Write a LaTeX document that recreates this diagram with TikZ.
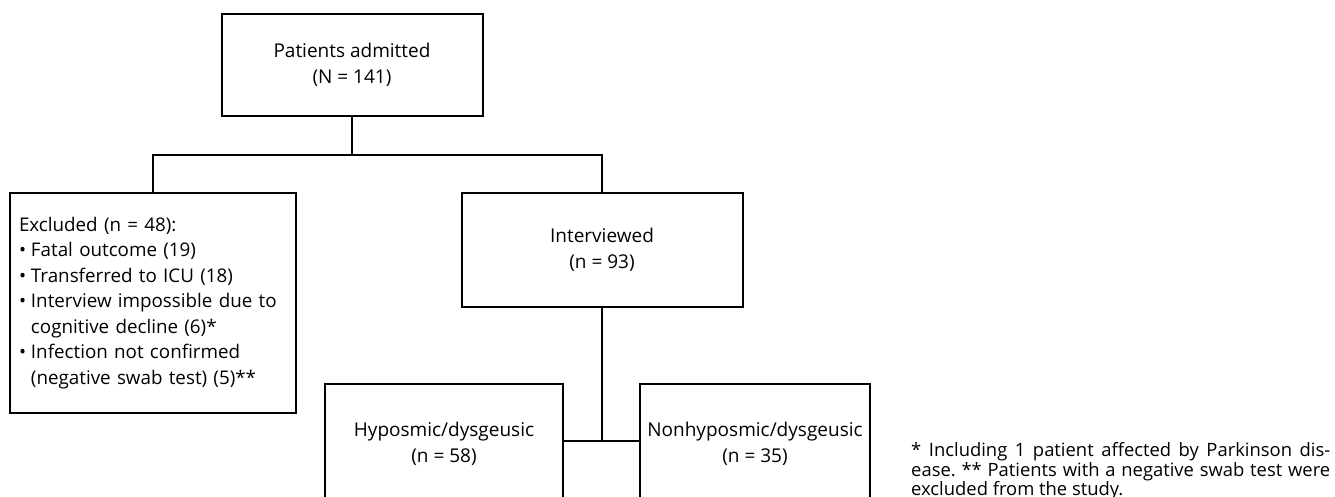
\documentclass[tikz,border=0pt]{standalone}
\usepackage{fontspec}
\setmainfont{Open Sans}
\frenchspacing
\newcommand{\mybul}{\makebox[12pt][l]{•}}
\newcommand{\myind}{\hspace*{12pt}}
\begin{document}
\begin{tikzpicture}[x=1pt,y=-1pt,
  box/.style={draw=black, line width=2pt, rectangle, inner sep=0pt, align=center,
    font=\fontsize{19}{26}\selectfont, text=black},
  conn/.style={draw=black, line width=2pt},
  notetext/.style={anchor=north west, inner sep=0pt, text width=419pt, align=justify,
    font=\fontsize{18.4}{19.6}\selectfont, text=black}
]
\useasboundingbox (0,0) rectangle (1335,496);
\clip (0,0) rectangle (1335,496);

\node[box, minimum width=261pt, minimum height=102pt] (adm) at (352,65) {Patients admitted\\(N = 141)};
\node[box, minimum width=286pt, minimum height=220pt, text width=268pt, align=left,
  font=\fontsize{18.8}{25.5}\selectfont] (excl) at (153,303)
  {Excluded (n = 48):\\
   \mybul Fatal outcome (19)\\
   \mybul Transferred to ICU (18)\\
   \mybul Interview impossible due to\\
   \myind cognitive decline (6)*\\
   \mybul Infection not confirmed\\
   \myind (negative swab test) (5)**};
\node[box, minimum width=281pt, minimum height=114pt] (intv) at (602,250) {Interviewed\\(n = 93)};
\node[box, minimum width=238pt, minimum height=119pt] (hypo) at (444,443.5) {Hyposmic/dysgeusic\\(n = 58)};
\node[box, minimum width=230pt, minimum height=119pt] (non) at (755,443.5) {Nonhyposmic/dysgeusic\\(n = 35)};

\coordinate (split) at (352,155);
\coordinate (split2) at (602,441);
\draw[conn] (adm.south) -- (split);
\draw[conn] (excl.north) |- (split) -| (intv.north);
\draw[conn] (intv.south) -- (split2);
\draw[conn] (hypo.east |- split2) -- (non.west |- split2);

\node[notetext] (note) at (911,442.5) {* Including 1 patient affected by Parkinson dis-\linebreak ease. ** Patients with a negative swab test were\linebreak excluded from the study.};
\end{tikzpicture}
\end{document}
